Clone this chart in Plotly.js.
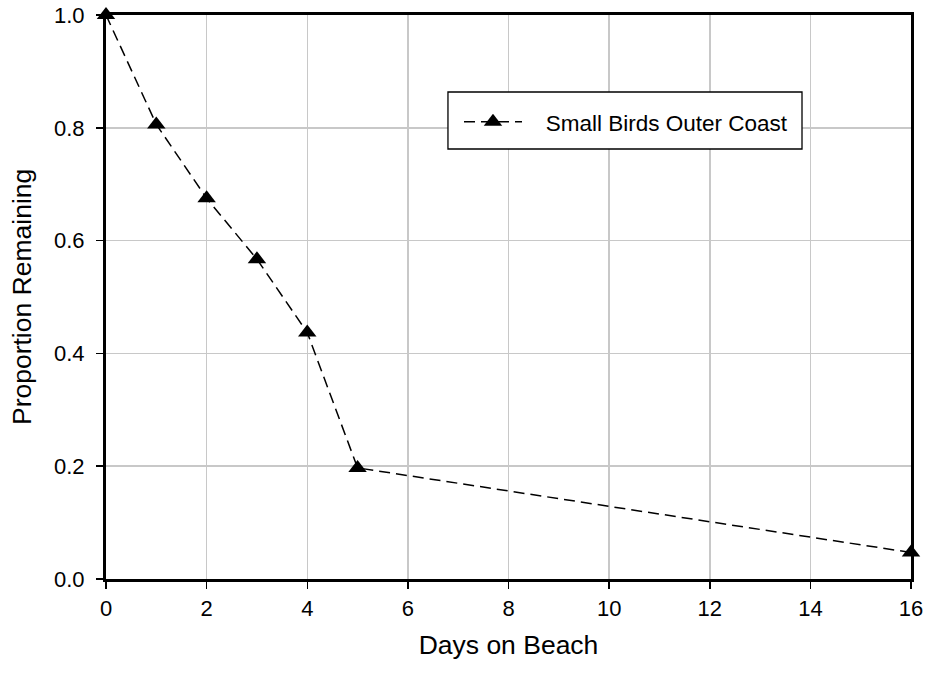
<!DOCTYPE html>
<html><head><meta charset="utf-8">
<script src="https://cdn.plot.ly/plotly-3.0.1.min.js"></script>
<style>html,body{margin:0;padding:0;background:#fff}#chart{width:927px;height:675px}</style>
</head><body><div id="chart"></div>
<script>
var days = [0, 1, 2, 3, 4, 5, 16];
var proportion = [1.0, 0.806, 0.675, 0.567, 0.437, 0.197, 0.047];
var seriesName = 'Small Birds Outer Coast';
var xTitle = 'Days on Beach';
var yTitle = 'Proportion Remaining';
var xTicks = [0, 2, 4, 6, 8, 10, 12, 14, 16];
var yTicks = [0.0, 0.2, 0.4, 0.6, 0.8, 1.0];
var yTickText = ['0.0', '0.2', '0.4', '0.6', '0.8', '1.0'];

var font = 'Liberation Sans, Arial, sans-serif';
var trace = {
  x: days, y: proportion, name: '\u00a0\u00a0\u00a0' + seriesName, type: 'scatter', mode: 'lines+markers',
  line: {color: '#000', width: 1.5, dash: '11px,6px'},
  marker: {symbol: 'triangle-up', size: 16, color: '#000'},
  cliponaxis: false
};
var layout = {
  width: 927, height: 675,
  margin: {l: 106, r: 16, t: 15, b: 96},
  paper_bgcolor: '#fff', plot_bgcolor: '#fff',
  font: {family: font, color: '#000'},
  showlegend: true,
  legend: {x: 0.4385, y: 0.810, xanchor: 'left', yanchor: 'middle',
    borderwidth: 0, bgcolor: 'rgba(0,0,0,0)',
    font: {size: 22.5, family: font}, itemwidth: 58},
  shapes: [{type: 'rect', xref: 'paper', yref: 'paper', layer: 'above',
    x0: 0.4248, x1: 0.8646, y0: 0.7624, y1: 0.8635,
    line: {color: '#000', width: 1.3}, fillcolor: '#fff'}],
  annotations: [{text: yTitle, xref: 'paper', yref: 'paper', x: -0.1043, y: 0.5,
    xanchor: 'center', yanchor: 'middle', textangle: -90, showarrow: false,
    font: {size: 26.5, family: font, color: '#000'}}],
  xaxis: {range: [0, 16], tickvals: xTicks, ticktext: xTicks.map(String),
    showline: true, linecolor: '#000', linewidth: 3, mirror: true,
    ticks: 'outside', ticklen: 7, tickwidth: 1.5, tickcolor: '#000', ticklabelstandoff: 1,
    showgrid: true, gridcolor: '#c8c8c8', gridwidth: 1.5, zeroline: false,
    tickfont: {size: 22, family: font},
    title: {text: xTitle, font: {size: 26.5, family: font}, standoff: 16}},
  yaxis: {range: [0, 1], tickvals: yTicks, ticktext: yTickText,
    showline: true, linecolor: '#000', linewidth: 3, mirror: true,
    ticks: 'outside', ticklen: 7, tickwidth: 1.5, tickcolor: '#000', ticklabelstandoff: 7,
    showgrid: true, gridcolor: '#c8c8c8', gridwidth: 1.5, zeroline: false,
    tickfont: {size: 22, family: font}}
};
Plotly.newPlot('chart', [trace], layout, {displayModeBar: false, staticPlot: true});
</script></body></html>
